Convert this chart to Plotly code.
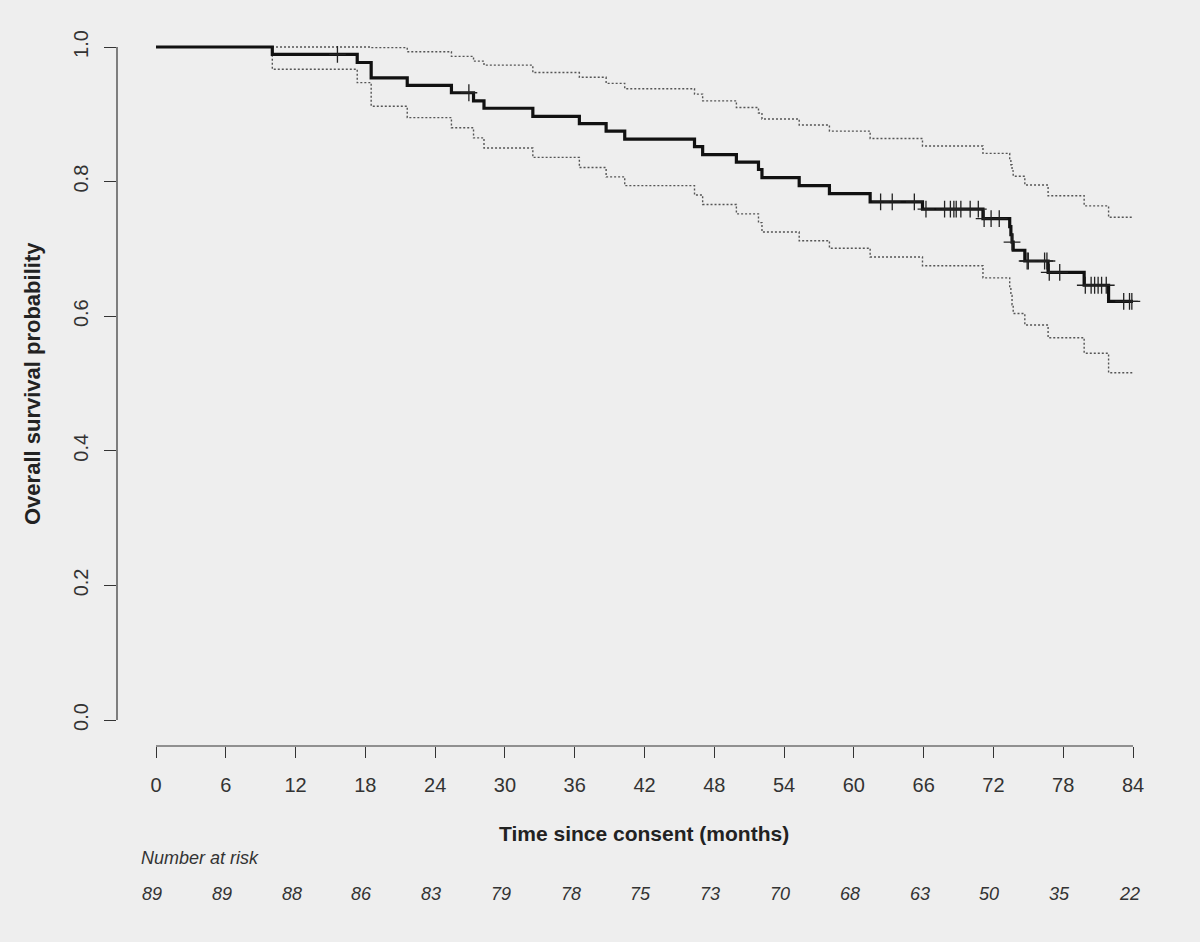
import bisect
import plotly.graph_objects as go

# ---- data ----
km_time = [0, 10.0, 17.3, 18.5, 21.6, 25.4, 27.3, 28.2, 32.4, 36.4,
           38.7, 40.3, 46.3, 47.0, 49.9, 51.8, 52.1, 55.3, 57.9, 61.4,
           65.9, 71.1, 73.4, 73.5, 73.6, 73.7, 74.7, 76.7, 79.8, 81.9, 84.0]
km_surv = [1.0, 0.989, 0.977, 0.954, 0.943, 0.932, 0.920, 0.909, 0.897, 0.886,
           0.875, 0.863, 0.852, 0.840, 0.829, 0.818, 0.806, 0.794, 0.782, 0.770,
           0.759, 0.745, 0.733, 0.721, 0.710, 0.698, 0.682, 0.665, 0.646, 0.622, 0.622]
ci_upper = [1.0, 1.0, 1.0, 0.999, 0.993, 0.986, 0.979, 0.973, 0.962, 0.955,
            0.946, 0.938, 0.930, 0.920, 0.910, 0.902, 0.893, 0.884, 0.875, 0.864,
            0.853, 0.842, 0.833, 0.825, 0.816, 0.808, 0.795, 0.779, 0.764, 0.747, 0.747]
ci_lower = [1.0, 0.967, 0.947, 0.912, 0.895, 0.880, 0.865, 0.850, 0.836, 0.821,
            0.807, 0.794, 0.780, 0.766, 0.752, 0.739, 0.725, 0.712, 0.701, 0.688,
            0.675, 0.657, 0.644, 0.631, 0.617, 0.604, 0.587, 0.568, 0.545, 0.516, 0.516]
censor_time = [15.6, 26.9, 62.3, 63.3, 65.2, 66.2, 67.8, 68.3, 68.6, 68.8,
               69.2, 70.0, 70.7, 71.2, 71.8, 72.5, 73.6, 74.9, 75.0, 76.4,
               76.6, 76.8, 77.7, 79.9, 80.4, 80.7, 81.0, 81.3, 81.7, 83.2,
               83.7, 83.9]
risk_time = [0, 6, 12, 18, 24, 30, 36, 42, 48, 54, 60, 66, 72, 78, 84]
risk_n = [89, 89, 88, 86, 83, 79, 78, 75, 73, 70, 68, 63, 50, 35, 22]
y_ticks = [0.0, 0.2, 0.4, 0.6, 0.8, 1.0]
y_ticktext = ["0.0", "0.2", "0.4", "0.6", "0.8", "1.0"]

# survival at each censoring time (step function lookup)
censor_surv = [km_surv[bisect.bisect_right(km_time, t) - 1] for t in censor_time]

FONT = "Liberation Sans, Arial, Helvetica, sans-serif"
BG = "#eeeeee"
INK = "#333333"

fig = go.Figure()
ci_style = dict(color="#555555", width=1.4, dash="2px,2px", shape="hv")
fig.add_trace(go.Scatter(x=km_time, y=ci_upper, mode="lines", line=ci_style,
                         hoverinfo="skip", showlegend=False))
fig.add_trace(go.Scatter(x=km_time, y=ci_lower, mode="lines", line=ci_style,
                         hoverinfo="skip", showlegend=False))
fig.add_trace(go.Scatter(x=km_time, y=km_surv, mode="lines",
                         line=dict(color="#111111", width=3.2, shape="hv"),
                         showlegend=False))
fig.add_trace(go.Scatter(x=censor_time, y=censor_surv, mode="markers",
                         marker=dict(symbol="cross-thin", size=12,
                                     line=dict(color="#222222", width=1.3)),
                         showlegend=False))

# plot area: x pixels 117..1150, y pixels 30..746
L, R, T, B = 117, 1150, 30, 746
W, H = 1200, 942
px_per_month = (1133 - 156) / 84.0
x0 = -(156 - L) / px_per_month
x1 = 84 + (R - 1133) / px_per_month
px_per_unit = 720 - 47
y0 = -(B - 720) / px_per_unit
y1 = 1 + (47 - T) / px_per_unit


def py(p):
    return (B - p) / (B - T)


def pxp(p):
    return (p - L) / (R - L)


fig.update_layout(
    width=W, height=H,
    margin=dict(l=L, r=W - R, t=T, b=H - B),
    paper_bgcolor=BG, plot_bgcolor=BG,
    font=dict(family=FONT, color=INK, size=20),
    xaxis=dict(range=[x0, x1], tickvals=risk_time, ticks="outside",
               ticklen=11, tickwidth=1.2, tickcolor=INK, showline=False,
               showgrid=False, zeroline=False, ticklabelstandoff=10,
               tickfont=dict(size=20, color=INK, family=FONT)),
    yaxis=dict(range=[y0, y1], tickvals=y_ticks, ticktext=y_ticktext,
               ticks="outside", ticklen=12, tickwidth=1.2, tickcolor=INK,
               tickangle=-90, showline=False, showgrid=False, zeroline=False,
               ticklabelstandoff=8,
               tickfont=dict(size=20, color=INK, family=FONT)),
    shapes=[
        dict(type="line", xref="paper", yref="y", x0=0, x1=0, y0=0, y1=1,
             line=dict(color=INK, width=1.2)),
        dict(type="line", xref="x", yref="paper", x0=0, x1=84, y0=0, y1=0,
             line=dict(color=INK, width=1.2)),
    ],
)

ann = []
ann.append(dict(text="<b>Overall survival probability</b>", xref="paper", yref="paper",
                x=pxp(33), y=py(384), textangle=-90, showarrow=False,
                font=dict(size=22, color="#222222", family=FONT),
                xanchor="center", yanchor="middle"))
ann.append(dict(text="<b>Time since consent (months)</b>", xref="paper", yref="paper",
                x=pxp(644), y=py(833), showarrow=False,
                font=dict(size=21, color="#222222", family=FONT),
                xanchor="center", yanchor="middle"))
ann.append(dict(text="<i>Number at risk</i>", xref="paper", yref="paper",
                x=pxp(139), y=py(858), showarrow=False,
                font=dict(size=18, color=INK, family=FONT),
                xanchor="left", yanchor="middle"))
for t, n in zip(risk_time, risk_n):
    ann.append(dict(text=f"<i>{n}</i>", xref="x", yref="paper", x=t, y=py(894),
                    xshift=-4, showarrow=False,
                    font=dict(size=18, color=INK, family=FONT),
                    xanchor="center", yanchor="middle"))
fig.update_layout(annotations=ann)

fig.write_html("out.html")
